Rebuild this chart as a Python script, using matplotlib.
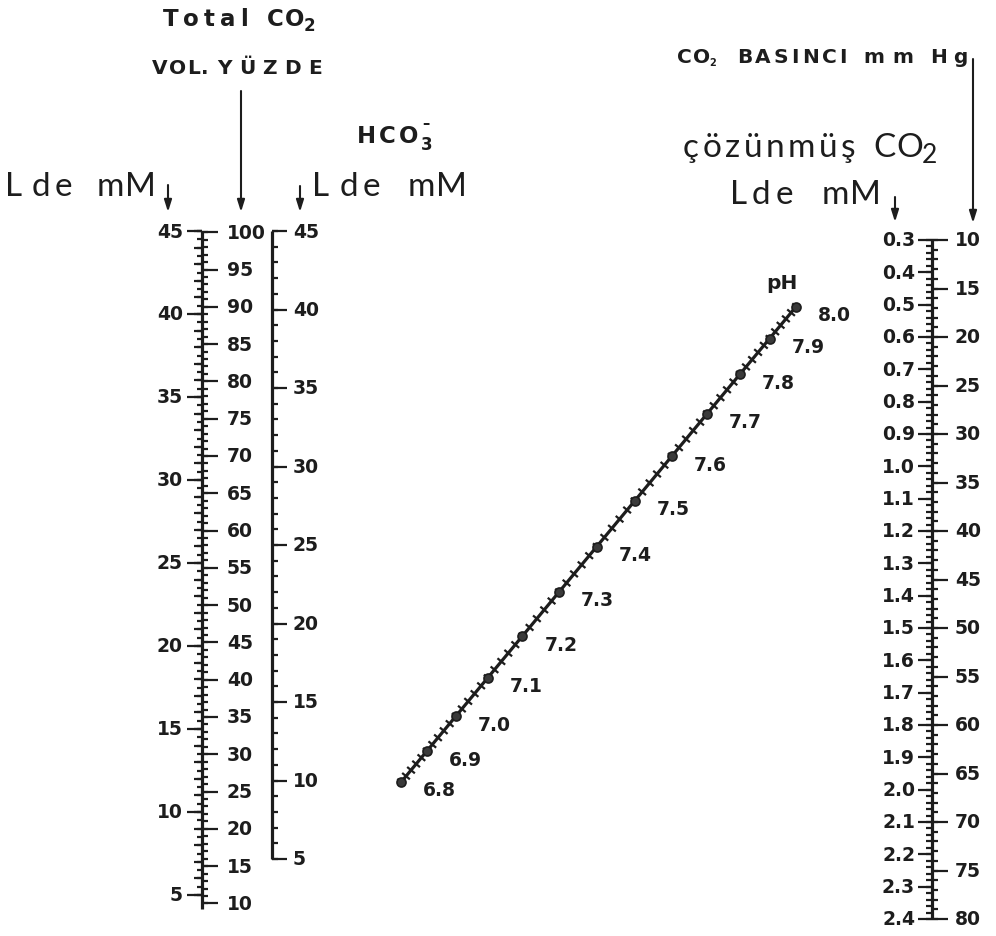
import numpy as np
import matplotlib.pyplot as plt
from matplotlib.collections import LineCollection
from matplotlib.font_manager import FontProperties
from matplotlib.textpath import text_to_path

# graduations printed on each scale
total_mm_ticks = [5, 10, 15, 20, 25, 30, 35, 40, 45]
vol_pct_ticks = [10, 15, 20, 25, 30, 35, 40, 45, 50, 55, 60, 65, 70, 75,
                 80, 85, 90, 95, 100]
hco3_ticks = [5, 10, 15, 20, 25, 30, 35, 40, 45]
dissolved_ticks = [0.3, 0.4, 0.5, 0.6, 0.7, 0.8, 0.9, 1.0, 1.1, 1.2, 1.3,
                   1.4, 1.5, 1.6, 1.7, 1.8, 1.9, 2.0, 2.1, 2.2, 2.3, 2.4]
pco2_ticks = [10, 15, 20, 25, 30, 35, 40, 45, 50, 55, 60, 65, 70, 75, 80]
ph_ticks = [6.8, 6.9, 7.0, 7.1, 7.2, 7.3, 7.4, 7.5, 7.6, 7.7, 7.8, 7.9, 8.0]

VOL_PER_MM = 2.226   # vol % CO2 per mM
SOLUBILITY = 0.03    # mM per mm Hg
PK = 6.1

INK = '#1d1d1d'
LW_SPINE = 2.3
LW_TICK = 1.6
PX_PER_PT = 100 / 72
NUM = dict(family='DejaVu Sans', weight='bold', size=13.5, color=INK)
LIGHT = dict(family='Lato', weight='normal', size=24, color=INK)
BOLD = dict(family='DejaVu Sans', weight='bold', size=14.5, color=INK)
TITLE = dict(family='DejaVu Sans', weight='bold', size=16.5, color=INK)

# scale geometry (page pixels, y downwards)
X_TOTAL, X_HCO3, X_PCO2 = 202, 272, 932


def y_total(mm):
    return 232 + (45 - mm) * 16.6


def y_vol(v):
    return y_total(v / VOL_PER_MM)


def y_hco3(h):
    return 232 + (45 - h) * 15.7


def y_pco2(p):
    return 241 + (p - 10) * 9.7


def y_dissolved(d):
    return y_pco2(d / SOLUBILITY)


def ph_point(ph):
    # every line HCO3 -> PCO2 with the same ratio passes through one point
    k = SOLUBILITY * 10 ** (ph - PK)
    bh = y_hco3(0) - y_hco3(1)
    bp = y_pco2(1) - y_pco2(0)
    t = bh * k / (bh * k + bp)
    x = X_HCO3 + t * (X_PCO2 - X_HCO3)
    y = (1 - t) * y_hco3(0) + t * y_pco2(0)
    return x, y


fig = plt.figure(figsize=(9.96, 9.37), dpi=100)
ax = fig.add_axes([0, 0, 1, 1])
ax.set_xlim(0, 996)
ax.set_ylim(937, 0)
ax.axis('off')


def ticks(x, ys, length, side):
    ax.hlines(ys, x, x + side * length, color=INK, lw=LW_TICK)


def arrow(x, y0, y1):
    ax.annotate('', xy=(x, y1), xytext=(x, y0),
                arrowprops=dict(arrowstyle='-|>,head_length=0.7,head_width=0.22',
                                color=INK, lw=1.5, shrinkA=0, shrinkB=0))


def spaced(x0, x1, y, s, **kw):
    # letter-spaced word stretched between x0 and x1 (never squeezed)
    prop = FontProperties(family=kw['family'], weight=kw['weight'], size=kw['size'])
    widths = [text_to_path.get_text_width_height_descent(c, prop, ismath=False)[0]
              * PX_PER_PT for c in s]
    gap = max((x1 - x0 - sum(widths)) / max(len(s) - 1, 1), 1.0)
    x = x0
    for c, w in zip(s, widths):
        ax.text(x, y, c, ha='left', va='baseline', **kw)
        x += w + gap


# total CO2: mM on the left, vol % on the right of one spine
ax.vlines(X_TOTAL, y_total(45), y_vol(10) + 6, color=INK, lw=LW_SPINE)
ticks(X_TOTAL, y_total(np.arange(5, 45.01, 0.5)), 5, -1)
ticks(X_TOTAL, y_total(np.arange(5, 45.01, 1)), 8, -1)
ticks(X_TOTAL, y_total(np.array(total_mm_ticks)), 15, -1)
for v in total_mm_ticks:
    ax.text(X_TOTAL - 19, y_total(v), str(v), ha='right', va='center', **NUM)
ticks(X_TOTAL, y_vol(np.arange(10, 100.01, 1)), 6, 1)
ticks(X_TOTAL, y_vol(np.array(vol_pct_ticks)), 16, 1)
for v in vol_pct_ticks:
    ax.text(X_TOTAL + 25, y_vol(v), str(v), ha='left', va='center', **NUM)

# HCO3 scale
ax.vlines(X_HCO3, y_hco3(45), y_hco3(5), color=INK, lw=LW_SPINE)
ticks(X_HCO3, y_hco3(np.arange(5, 45.01, 1)), 6, 1)
ticks(X_HCO3, y_hco3(np.array(hco3_ticks)), 15, 1)
for v in hco3_ticks:
    ax.text(X_HCO3 + 21, y_hco3(v), str(v), ha='left', va='center', **NUM)

# dissolved CO2 (left) and CO2 pressure (right)
ax.vlines(X_PCO2, y_pco2(10), y_pco2(80), color=INK, lw=LW_SPINE)
ticks(X_PCO2, y_dissolved(np.arange(0.3, 2.401, 0.02)), 6, -1)
ticks(X_PCO2, y_dissolved(np.array(dissolved_ticks)), 14, -1)
for v in dissolved_ticks:
    ax.text(X_PCO2 - 17, y_dissolved(v), f'{v:.1f}', ha='right', va='center', **NUM)
ticks(X_PCO2, y_pco2(np.arange(10, 80.01, 1)), 6, 1)
ticks(X_PCO2, y_pco2(np.array(pco2_ticks)), 16, 1)
for v in pco2_ticks:
    ax.text(X_PCO2 + 23, y_pco2(v), str(v), ha='left', va='center', **NUM)

# pH line with cross ticks
x0, y0 = ph_point(ph_ticks[0])
x1, y1 = ph_point(ph_ticks[-1])
ax.plot([x0, x1], [y0, y1], color=INK, lw=LW_SPINE, solid_capstyle='butt')
d = np.array([x1 - x0, y1 - y0])
n = np.array([-d[1], d[0]]) / np.hypot(*d)
segs = []
for ph in np.arange(6.8, 8.001, 0.02):
    p = np.array(ph_point(ph))
    segs.append([p - 5 * n, p + 5 * n])
ax.add_collection(LineCollection(segs, colors=INK, linewidths=LW_TICK))
for ph in ph_ticks:
    px, py = ph_point(ph)
    ax.plot(px, py, 'o', ms=6.5, mfc='#3a3a3a', mec=INK, mew=1.2)
    ax.text(px + 22, py + 8, f'{ph:.1f}', ha='left', va='center', **NUM)
ax.text(766, 289, 'pH', ha='left', va='baseline', **BOLD)

# headings and pointers, left block
spaced(163, 248, 26, 'Total', **TITLE)
spaced(267, 302, 26, 'CO', **TITLE)
ax.text(304, 31, '2', ha='left', va='baseline', **dict(TITLE, size=12))
spaced(152, 202, 74, 'VOL.', **BOLD)
spaced(217, 322, 74, 'YÜZDE', **BOLD)
arrow(241, 92, 213)
spaced(5, 17, 196, 'L', **LIGHT)
spaced(32, 72, 196, 'de', **LIGHT)
spaced(97, 153, 196, 'mM', **LIGHT)
arrow(168, 186, 213)
spaced(357, 418, 143, 'HCO', **TITLE)
ax.text(421, 150, '3', ha='left', va='baseline', **dict(TITLE, size=12))
ax.text(422, 128, '–', ha='left', va='baseline', **dict(TITLE, size=10.5))
spaced(312, 322, 196, 'L', **LIGHT)
spaced(340, 380, 196, 'de', **LIGHT)
spaced(408, 465, 196, 'mM', **LIGHT)
arrow(300, 187, 213)

# headings and pointers, right block
spaced(677, 706, 63, 'CO', **BOLD)
ax.text(709, 66, '2', ha='left', va='baseline', **dict(BOLD, size=7))
spaced(737, 847, 63, 'BASINCI', **BOLD)
spaced(863, 913, 63, 'mm', **BOLD)
spaced(930, 968, 63, 'Hg', **BOLD)
arrow(973, 60, 224)
spaced(683, 855, 157, 'çözünmüş', **LIGHT)
spaced(873, 918, 157, 'CO', **LIGHT)
ax.text(922, 163, '2', ha='left', va='baseline', **dict(LIGHT, size=19))
spaced(730, 793, 204, 'Lde', **LIGHT)
spaced(822, 878, 204, 'mM', **LIGHT)
arrow(895, 198, 223)

fig.savefig('out.png', dpi=100, facecolor='white')
